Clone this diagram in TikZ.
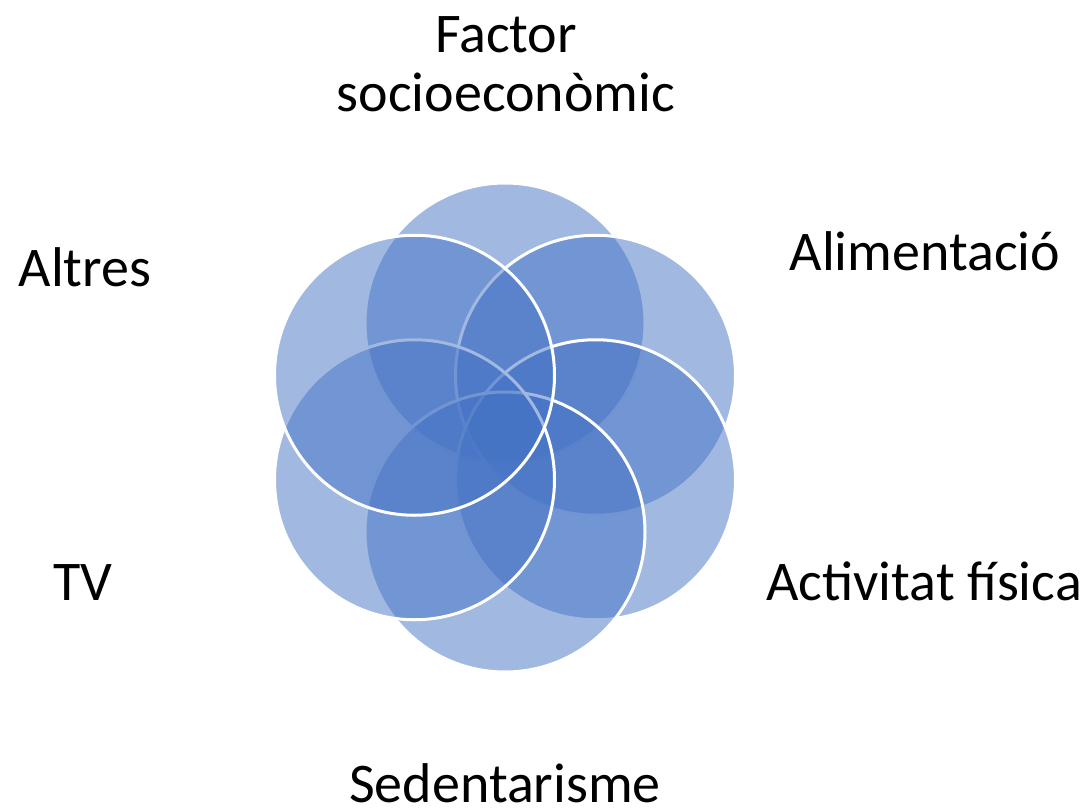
\documentclass[tikz,border=0pt]{standalone}
\usepackage{fontspec}
\setmainfont{Carlito}
\usetikzlibrary{calc}
\definecolor{petal}{HTML}{4472C4}
\begin{document}
\begin{tikzpicture}[x=1pt,y=-1pt,
  petalc/.style={circle, minimum size=280pt, inner sep=0pt, outer sep=0pt,
    fill=petal, fill opacity=0.5, draw=white, draw opacity=1, line width=3pt},
  lbl/.style={anchor=base, inner sep=0pt, font=\fontsize{56}{60}\selectfont, text=black}]
\useasboundingbox (0,0) rectangle (1088,808);
\coordinate (o) at (505,427.5);
% six overlapping circles, clockwise from the top
\node[petalc] (c1) at ($(o)+(0,-104.5)$) {};
\node[petalc] (c2) at ($(o)+(90.5,-52.25)$) {};
\node[petalc] (c3) at ($(o)+(90.5,52.25)$) {};
\node[petalc] (c4) at ($(o)+(0,104.5)$) {};
\node[petalc] (c5) at ($(o)+(-90.5,52.25)$) {};
\node[petalc] (c6) at ($(o)+(-90.5,-52.25)$) {};
% labels
\node[lbl] (l1a) at (506,53) {Factor};
\node[lbl] (l1b) at (506,112) {socioeconòmic};
\node[lbl] (l2) at (925,270) {Alimentació};
\node[lbl] (l3) at (924,600) {Activitat física};
\node[lbl, text depth=0pt] (l4) at (505,802) {Sedentarisme};
\node[lbl] (l5) at (83,600) {TV};
\node[lbl] (l6) at (85,286) {Altres};
\end{tikzpicture}
\end{document}
